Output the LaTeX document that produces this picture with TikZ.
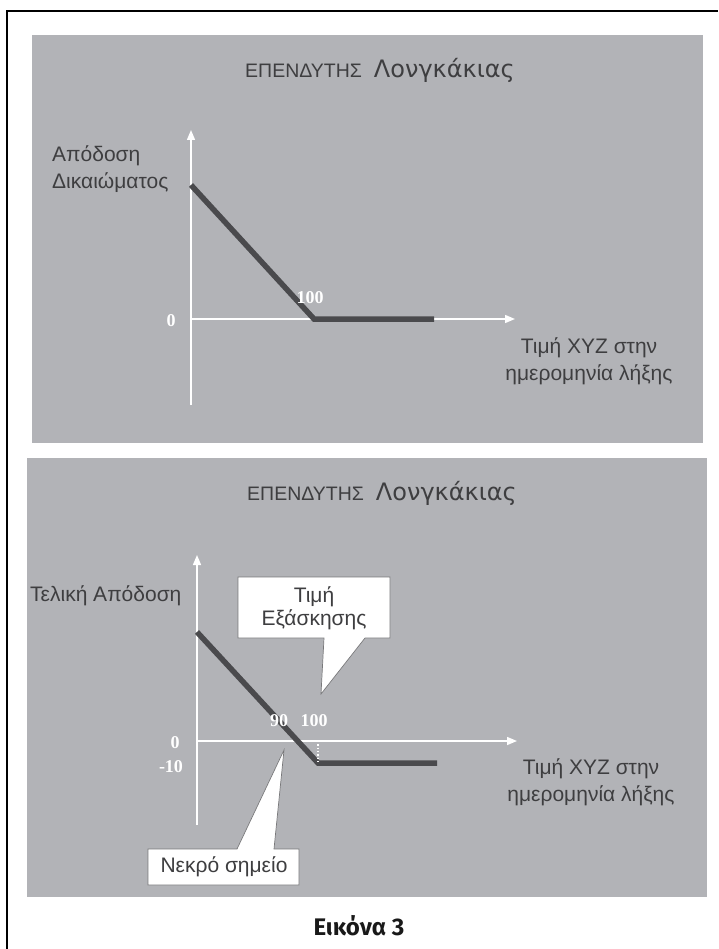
\documentclass[tikz,border=0pt]{standalone}
\usepackage{fontspec}
\setmainfont{Liberation Sans}
\newfontfamily\numfont{Liberation Serif}
\newfontfamily\capfont{Fira Sans}
\newfontfamily\widefont{DejaVu Sans}
\usetikzlibrary{arrows.meta}
\definecolor{panel}{RGB}{178,179,183}
\definecolor{payoff}{RGB}{74,74,77}
\definecolor{ink}{RGB}{62,62,64}
\definecolor{edge}{RGB}{120,120,122}
\tikzset{
  panelbg/.style={fill=panel, draw=none},
  axisline/.style={white, line width=1.4, -{Triangle[width=8,length=10]}},
  payoffline/.style={payoff, line width=5.5, line join=miter},
  num/.style={text=white, inner sep=0pt, font=\numfont\bfseries\fontsize{18}{18}\selectfont},
  lbl/.style={text=ink, inner sep=0pt, align=center, font=\fontsize{21}{27}\selectfont},
  note/.style={text=ink, inner sep=0pt, align=center, font=\fontsize{21}{23}\selectfont},
  ttl/.style={text=ink, inner sep=0pt},
  callout/.style={fill=white, draw=edge, line width=0.7, line join=miter},
}
\newcommand{\titletext}{{\fontsize{19.5}{19.5}\selectfont ΕΠΕΝΔΥΤΗΣ}\hspace{12pt}{\widefont\fontsize{24}{24}\selectfont Λονγκάκιας}}
\begin{document}
\begin{tikzpicture}[x=1pt,y=-1pt]
\useasboundingbox (0,0) rectangle (718,949);

% outer frame (open to the right and bottom)
\draw[black, line width=2.4] (7,949) -- (7,11) -- (718,11);

% ---------- upper panel: option payoff ----------
\fill[panelbg] (32,35) rectangle (703,443);
\node[ttl] (titleA) at (380,70) {\titletext};

\coordinate (oA) at (191,319);
\coordinate (ytopA) at (191,130);
\coordinate (ybotA) at (191,405);
\coordinate (xendA) at (515,319);
\draw[axisline] (ybotA) -- (ytopA);
\draw[axisline] (oA) -- (xendA);

\coordinate (pA1) at (191,185);
\coordinate (pA2) at (314,319);
\coordinate (pA3) at (434,319);
\draw[payoffline] (pA1) -- (pA2) -- (pA3);

\node[num] (strikeA) at (310,298) {100};
\node[num] (zeroA) at (171,321) {0};

\node[lbl, align=left, anchor=west] (ylabA) at (52,169) {Απόδοση\\Δικαιώματος};
\node[lbl] (xlabA) at (589,361) {Τιμή XYZ στην\\ημερομηνία λήξης};

% ---------- lower panel: net payoff ----------
\fill[panelbg] (27,458) rectangle (707,897);
\node[ttl] (titleB) at (382,493) {\titletext};

\coordinate (oB) at (197,741);
\coordinate (ytopB) at (197,555);
\coordinate (ybotB) at (197,825);
\coordinate (xendB) at (517,741);
\draw[axisline] (ybotB) -- (ytopB);
\draw[axisline] (oB) -- (xendB);

\coordinate (pB1) at (197,632);
\coordinate (pB2) at (318,763);
\coordinate (pB3) at (437,763);
\draw[payoffline] (pB1) -- (pB2) -- (pB3);
\coordinate (kB) at (318,741);
\draw[white, line width=1.3, dotted] (kB) -- (pB2);

\node[num] (beB) at (279,721) {90};
\node[num] (strikeB) at (314,721) {100};
\node[num] (zeroB) at (175,743) {0};
\node[num] (lossB) at (171,767) {-10};

\node[lbl, anchor=west] (ylabB) at (30,596) {Τελική Απόδοση};
\node[lbl] (xlabB) at (591,782) {Τιμή XYZ στην\\ημερομηνία λήξης};

% callout: strike price
\coordinate (tipK) at (321,694);
\draw[callout] (238,577) -- (390,577) -- (390,638) -- (365,638) -- (tipK)
  -- (324,638) -- (238,638) -- cycle;
\node[note] (strikeNote) at (314,608) {Τιμή\\Εξάσκησης};

% callout: break-even point
\coordinate (tipBE) at (284,750);
\draw[callout] (148,849) -- (237,849) -- (tipBE) -- (274,849) -- (299,849)
  -- (299,885) -- (148,885) -- cycle;
\node[note] (beNote) at (224,867) {Νεκρό σημείο};

% caption
\node[text=black!90, font=\capfont\bfseries\fontsize{24}{24}\selectfont] (caption) at (359,926) {Εικόνα 3};
\end{tikzpicture}
\end{document}
